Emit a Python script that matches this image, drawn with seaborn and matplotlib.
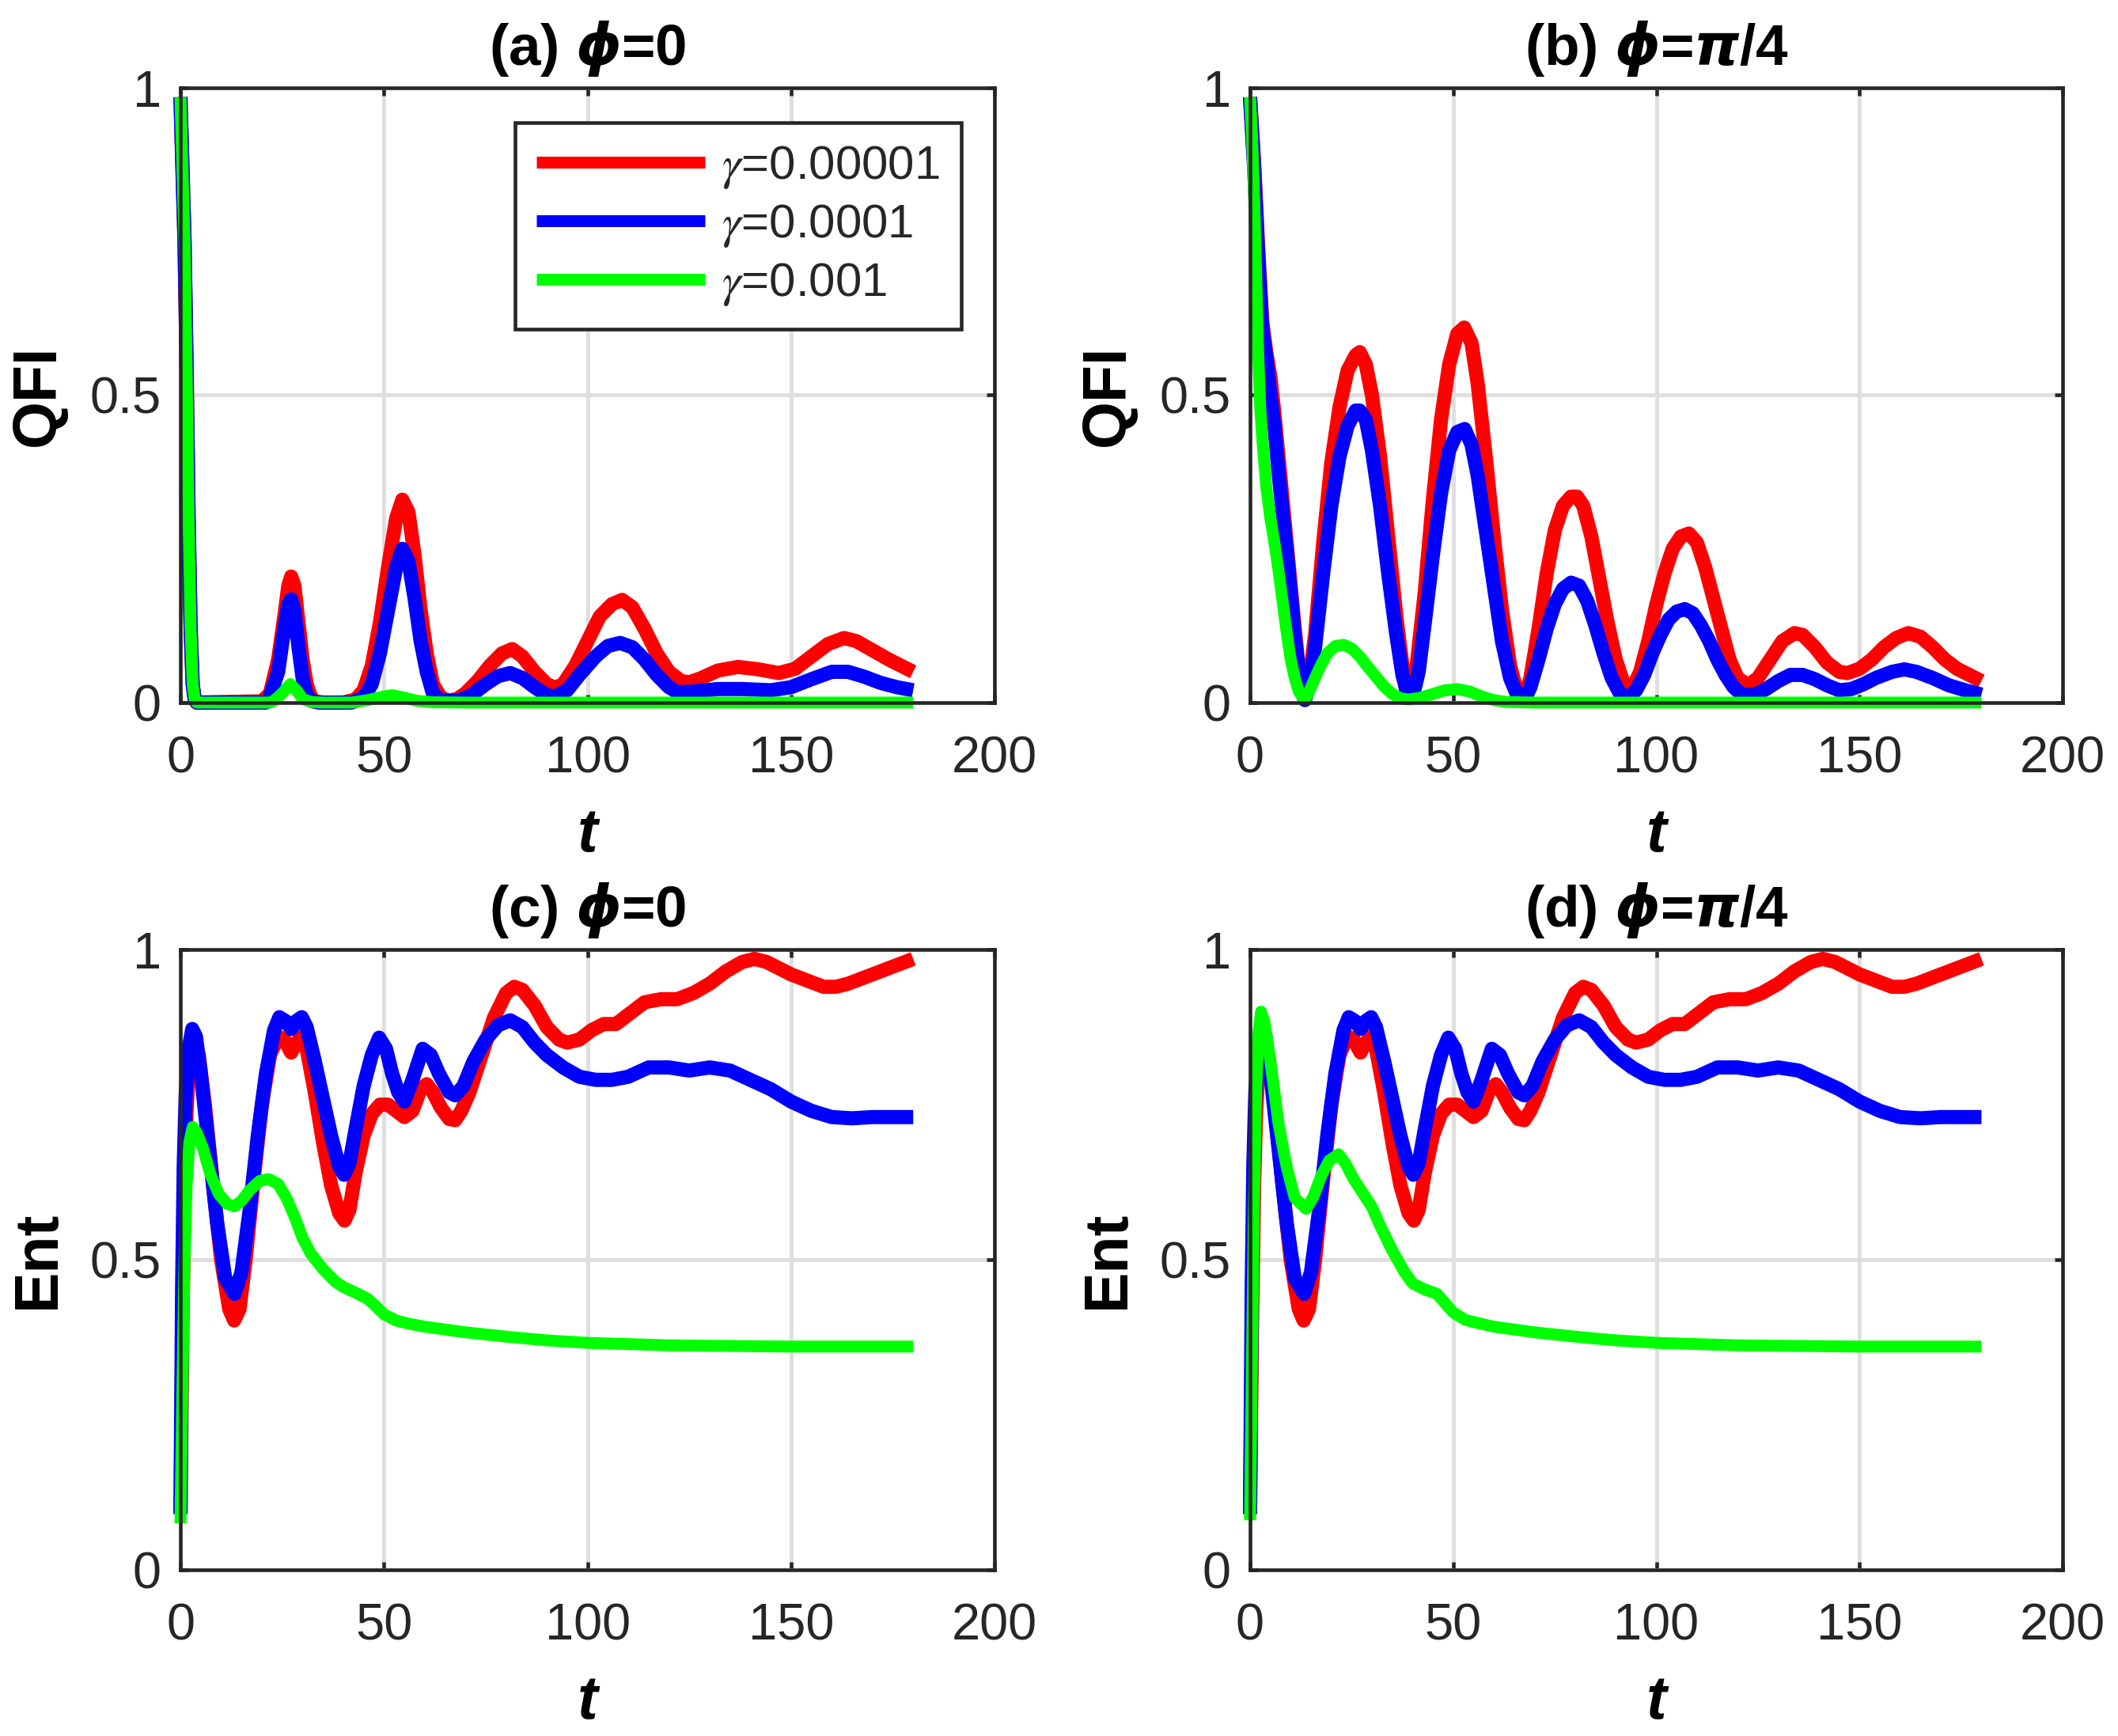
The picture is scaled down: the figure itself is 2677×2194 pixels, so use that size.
import numpy as np
import pandas as pd
import matplotlib
matplotlib.use("Agg")
import matplotlib.pyplot as plt
from matplotlib.font_manager import FontProperties
import seaborn as sns


# series: t values and curve values per panel

gammas = ["0.00001", "0.0001", "0.001"]
colors = ["#ff0000", "#0000ff", "#00ff00"]
widths = [4.3, 4.3, 3.6]

# (a) QFI, phi = 0
a_red_t = [0, 1, 1.5, 2, 2.5, 3, 3.5, 4, 20, 22, 24, 25.5, 26.5, 27.2, 28, 29, 30, 31, 32, 33, 35,
           40, 43, 45, 47, 49, 51, 53, 54.5, 56, 57.5, 59, 60.5, 62, 64, 66, 68, 70, 73, 76, 79,
           81.5, 84, 87, 90, 92, 94, 97, 100, 103, 106, 108.5, 111, 114, 117, 120, 123, 125, 128,
           132, 137, 142, 147, 151, 155, 159, 163, 166, 170, 174, 177, 180]
a_red_v = [0.985, 0.75, 0.55, 0.3, 0.12, 0.03, 0.005, 0, 0.002, 0.015, 0.07, 0.14, 0.19, 0.205,
           0.19, 0.13, 0.07, 0.03, 0.01, 0.002, 0, 0, 0.005, 0.02, 0.06, 0.13, 0.22, 0.3, 0.33,
           0.31, 0.24, 0.15, 0.08, 0.03, 0.008, 0.003, 0.006, 0.015, 0.035, 0.06, 0.08, 0.087,
           0.075, 0.05, 0.03, 0.024, 0.03, 0.06, 0.1, 0.14, 0.16, 0.167, 0.155, 0.12, 0.08, 0.05,
           0.035, 0.033, 0.04, 0.052, 0.058, 0.054, 0.048, 0.055, 0.075, 0.095, 0.105, 0.1, 0.085,
           0.07, 0.06, 0.05]
a_blue_t = [0, 1, 1.5, 2, 2.5, 3, 3.5, 4, 21, 22, 24, 25.5, 26.5, 27.2, 28, 29, 30, 31, 32.5, 34,
            42, 45, 47, 49, 51, 53, 54.5, 56, 57.5, 59, 60.5, 62, 64, 68, 71, 75, 78, 81, 84, 87,
            90, 92, 95, 98, 102, 105, 108, 111, 114, 117, 120, 122, 126, 132, 138, 145, 150, 155,
            160, 164, 168, 172, 176, 180]
a_blue_v = [0.985, 0.75, 0.55, 0.3, 0.12, 0.03, 0.005, 0, 0, 0.01, 0.05, 0.12, 0.16, 0.168, 0.15,
            0.09, 0.04, 0.012, 0.002, 0, 0, 0.008, 0.03, 0.08, 0.15, 0.22, 0.25, 0.23, 0.17, 0.1,
            0.05, 0.015, 0.003, 0.003, 0.01, 0.03, 0.043, 0.048, 0.04, 0.025, 0.012, 0.01, 0.02,
            0.045, 0.075, 0.092, 0.097, 0.09, 0.07, 0.045, 0.025, 0.017, 0.018, 0.022, 0.022, 0.02,
            0.025, 0.038, 0.05, 0.05, 0.042, 0.032, 0.025, 0.02]
a_green_t = [0, 1, 1.5, 2, 2.5, 3, 3.5, 4, 22, 23, 25, 27, 28.5, 30, 32, 35, 42, 46, 50, 52, 55,
             58, 62, 70, 180]
a_green_v = [0.985, 0.75, 0.55, 0.3, 0.12, 0.03, 0.005, 0, 0, 0.003, 0.015, 0.03, 0.02, 0.006,
             0.001, 0, 0, 0.004, 0.01, 0.012, 0.008, 0.003, 0.0005, 0, 0]

# (b) QFI, phi = pi/4
b_red_t = [0, 1, 2, 3, 4, 5, 6, 7, 8, 9, 10, 11, 12, 13, 13.5, 14.5, 16, 18, 20, 22, 24, 26, 27,
           28.5, 30, 32, 34, 36, 37.5, 38.5, 39.5, 41, 43, 45, 47, 49, 51, 52.7, 54.5, 56, 58, 60,
           62, 64, 66, 67.5, 69, 71, 73, 75, 77, 79, 80.5, 82, 84, 86, 88, 90, 92, 94, 96, 98, 100,
           102, 104, 106, 108, 110, 112, 114, 116, 118, 120, 122.5, 125, 128, 131, 134, 136, 139,
           142, 145, 147, 150, 153, 156, 159, 162, 165, 168, 171, 174, 177, 180]
b_red_v = [0.985, 0.88, 0.74, 0.62, 0.57, 0.53, 0.47, 0.4, 0.33, 0.26, 0.19, 0.12, 0.055, 0.014,
           0.005, 0.03, 0.11, 0.26, 0.39, 0.48, 0.54, 0.565, 0.57, 0.55, 0.5, 0.4, 0.27, 0.14, 0.06,
           0.015, 0.01, 0.06, 0.18, 0.33, 0.46, 0.55, 0.6, 0.61, 0.585, 0.52, 0.4, 0.27, 0.15, 0.06,
           0.01, 0.005, 0.04, 0.12, 0.21, 0.28, 0.32, 0.335, 0.335, 0.32, 0.27, 0.2, 0.13, 0.07,
           0.03, 0.022, 0.05, 0.1, 0.16, 0.21, 0.25, 0.27, 0.275, 0.26, 0.22, 0.17, 0.12, 0.07,
           0.04, 0.028, 0.04, 0.07, 0.1, 0.113, 0.11, 0.09, 0.065, 0.05, 0.048, 0.055, 0.07, 0.09,
           0.105, 0.113, 0.107, 0.09, 0.07, 0.055, 0.045, 0.035]
b_blue_t = [0, 1, 2, 3, 4, 5, 6, 7, 8, 9, 10, 11, 12, 13, 13.5, 14.5, 16, 18, 20, 22, 24, 26, 27,
            28.5, 30, 32, 34, 36, 37.5, 39, 40, 41.5, 43, 45, 47, 49, 51, 52.8, 54.5, 56, 58, 60,
            62, 64, 66, 67.5, 69, 71, 73, 75, 77, 79, 81, 83, 85, 87, 89, 91, 93, 95, 97, 99, 101,
            103, 105, 107, 109, 111, 113, 115, 117, 119, 121, 124, 127, 130, 133, 136, 139, 142,
            145, 148, 151, 154, 158, 161, 164, 168, 172, 176, 180]
b_blue_v = [0.985, 0.87, 0.73, 0.61, 0.56, 0.5, 0.45, 0.375, 0.31, 0.25, 0.18, 0.11, 0.05, 0.012,
            0.004, 0.025, 0.09, 0.21, 0.32, 0.4, 0.45, 0.475, 0.475, 0.46, 0.41, 0.32, 0.21, 0.11,
            0.045, 0.008, 0.008, 0.05, 0.13, 0.24, 0.34, 0.41, 0.44, 0.445, 0.42, 0.37, 0.28, 0.19,
            0.1, 0.04, 0.008, 0.004, 0.025, 0.07, 0.12, 0.16, 0.185, 0.195, 0.19, 0.165, 0.125,
            0.08, 0.04, 0.015, 0.008, 0.02, 0.045, 0.08, 0.11, 0.135, 0.148, 0.152, 0.145, 0.125,
            0.1, 0.07, 0.045, 0.025, 0.013, 0.012, 0.022, 0.035, 0.045, 0.045, 0.038, 0.028, 0.02,
            0.022, 0.03, 0.04, 0.05, 0.054, 0.05, 0.04, 0.028, 0.02, 0.013]
b_green_t = [0, 0.5, 1, 1.5, 2, 2.5, 3, 4, 5, 6, 7, 8, 9, 10, 11, 12, 13, 14, 15, 17, 19, 21, 23,
             25, 27, 29, 31, 33, 35, 37, 39, 42, 45, 48, 51, 54, 57, 60, 63, 70, 180]
b_green_v = [0.985, 0.92, 0.82, 0.7, 0.57, 0.48, 0.43, 0.35, 0.3, 0.26, 0.215, 0.165, 0.115,
             0.07, 0.04, 0.018, 0.008, 0.01, 0.025, 0.055, 0.08, 0.092, 0.094, 0.088, 0.075,
             0.058, 0.042, 0.026, 0.014, 0.007, 0.005, 0.008, 0.014, 0.02, 0.022, 0.018, 0.01,
             0.004, 0.001, 0, 0]

# (c)/(d) Ent, red and blue curves are the same in both panels
cd_red_t = [0, 0.5, 1, 1.5, 2, 3, 3.5, 4.5, 6, 8, 10, 12, 13.2, 14.5, 16, 18, 20, 22, 24, 25.5,
            27.2, 28.5, 29.8, 31, 33, 35, 37, 39, 40.3, 41.5, 43, 45, 47, 49, 51, 53, 55, 57, 59,
            60.5, 62, 64, 66, 67.5, 69, 71, 74, 77, 80, 82, 84, 87, 90, 93, 95, 98, 101, 104, 107,
            110, 114, 118, 122, 126, 130, 134, 138, 141, 144, 147, 150, 154, 158, 161, 164, 168,
            172, 176, 180]
cd_red_v = [0.09, 0.4, 0.62, 0.74, 0.8, 0.84, 0.845, 0.83, 0.75, 0.62, 0.5, 0.42, 0.402, 0.42,
            0.5, 0.63, 0.75, 0.83, 0.86, 0.855, 0.834, 0.85, 0.86, 0.84, 0.77, 0.69, 0.62, 0.575,
            0.563, 0.58, 0.64, 0.7, 0.735, 0.75, 0.75, 0.74, 0.73, 0.74, 0.775, 0.783, 0.77, 0.745,
            0.727, 0.725, 0.74, 0.77, 0.83, 0.89, 0.93, 0.94, 0.935, 0.91, 0.875, 0.855, 0.85,
            0.855, 0.87, 0.88, 0.88, 0.895, 0.915, 0.92, 0.92, 0.93, 0.945, 0.965, 0.98, 0.985,
            0.98, 0.97, 0.96, 0.95, 0.94, 0.94, 0.945, 0.955, 0.965, 0.975, 0.985]
cd_blue_t = [0, 0.4, 0.8, 1.3, 2, 2.9, 3.8, 5, 7, 9, 11, 13.3, 15, 17, 19, 21, 23, 24.3, 25.8,
             27.2, 28.5, 29.8, 31, 33, 35, 37, 39, 40.2, 41.5, 43, 45, 47, 48.8, 50.5, 52, 53.5,
             55, 57, 59.5, 61.5, 63.5, 66, 67.5, 69.5, 72, 75, 78, 81, 84, 87, 90, 94, 98, 102,
             106, 110, 115, 120, 125, 130, 135, 140, 145, 150, 155, 160, 165, 170, 175, 180]
cd_blue_v = [0.09, 0.45, 0.65, 0.77, 0.84, 0.872, 0.86, 0.8, 0.68, 0.56, 0.47, 0.445, 0.48, 0.58,
             0.7, 0.8, 0.87, 0.891, 0.885, 0.872, 0.885, 0.891, 0.875, 0.82, 0.76, 0.7, 0.65,
             0.637, 0.655, 0.71, 0.78, 0.83, 0.858, 0.84, 0.8, 0.77, 0.755, 0.79, 0.84, 0.83, 0.8,
             0.77, 0.765, 0.78, 0.82, 0.855, 0.878, 0.886, 0.875, 0.85, 0.83, 0.81, 0.795, 0.79,
             0.79, 0.795, 0.81, 0.81, 0.805, 0.81, 0.805, 0.79, 0.775, 0.755, 0.74, 0.73, 0.728,
             0.73, 0.73, 0.73]
c_green_t = [0, 0.5, 1, 1.5, 2.2, 3, 4, 5.5, 7.5, 9.5, 11.5, 13.3, 15, 17, 19.5, 21.7, 24, 26,
             28, 30, 32, 35, 38, 40, 43, 46, 48, 50, 53, 56, 60, 70, 80, 90, 100, 120, 150, 180]
c_green_v = [0.075, 0.3, 0.5, 0.62, 0.69, 0.714, 0.705, 0.68, 0.635, 0.605, 0.59, 0.586, 0.595,
             0.612, 0.627, 0.63, 0.622, 0.6, 0.57, 0.535, 0.51, 0.485, 0.465, 0.456, 0.447, 0.437,
             0.425, 0.412, 0.402, 0.397, 0.392, 0.383, 0.376, 0.37, 0.366, 0.362, 0.36, 0.36]
d_green_t = [0, 0.5, 1, 1.5, 2, 2.7, 3.5, 5, 7, 9, 11, 13.8, 15.5, 17.5, 19.5, 21.8, 23.5, 25.5,
             28, 30, 32, 35, 38, 40, 43, 46, 48, 50, 53, 56, 60, 70, 80, 90, 100, 120, 150, 180]
d_green_v = [0.08, 0.35, 0.6, 0.77, 0.86, 0.9, 0.885, 0.82, 0.72, 0.65, 0.6, 0.582, 0.6, 0.635,
             0.66, 0.67, 0.655, 0.63, 0.605, 0.585, 0.555, 0.515, 0.48, 0.462, 0.452, 0.445, 0.43,
             0.415, 0.403, 0.398, 0.392, 0.383, 0.376, 0.37, 0.366, 0.362, 0.36, 0.36]

x_ticks = [0, 50, 100, 150, 200]
x_tick_labels = ["0", "50", "100", "150", "200"]
y_ticks = [0, 0.5, 1]
y_tick_labels = ["0", "0.5", "1"]

panels = [
    ("(a) $\\boldsymbol{\\phi}$=0", "QFI",
     [(a_red_t, a_red_v), (a_blue_t, a_blue_v), (a_green_t, a_green_v)]),
    ("(b) $\\boldsymbol{\\phi}$=$\\boldsymbol{\\pi}$/4", "QFI",
     [(b_red_t, b_red_v), (b_blue_t, b_blue_v), (b_green_t, b_green_v)]),
    ("(c) $\\boldsymbol{\\phi}$=0", "Ent",
     [(cd_red_t, cd_red_v), (cd_blue_t, cd_blue_v), (c_green_t, c_green_v)]),
    ("(d) $\\boldsymbol{\\phi}$=$\\boldsymbol{\\pi}$/4", "Ent",
     [(cd_red_t, cd_red_v), (cd_blue_t, cd_blue_v), (d_green_t, d_green_v)]),
]

# axes rectangles in figure fraction
rects = [
    (0.0852, 0.5953, 0.3844, 0.3541),
    (0.5902, 0.5953, 0.3837, 0.3541),
    (0.0852, 0.0957, 0.3844, 0.3573),
    (0.5902, 0.0957, 0.3837, 0.3573),
]

sns.set_theme(style="ticks")
plt.rcParams["font.family"] = ["Liberation Sans", "DejaVu Sans"]
plt.rcParams["axes.unicode_minus"] = False

DARK = "#262626"


def long_frame(series):
    parts = []
    for (t, v), g in zip(series, gammas):
        parts.append(pd.DataFrame({"t": t, "value": v, "gamma": g}))
    return pd.concat(parts, ignore_index=True)


def draw_panel(ax, title, ylabel, series, with_legend=False):
    df = long_frame(series)
    sns.lineplot(data=df, x="t", y="value", hue="gamma", hue_order=gammas,
                 palette=colors, estimator=None, sort=False, legend=False, ax=ax,
                 clip_on=False, solid_capstyle="butt", solid_joinstyle="round")
    lines = ax.get_lines()[:3]
    for ln, w in zip(lines, widths):
        ln.set_linewidth(w)
    ax.set_xlim(0, 200)
    ax.set_ylim(0, 1)
    ax.set_xticks(x_ticks)
    ax.set_xticklabels(x_tick_labels)
    ax.set_yticks(y_ticks)
    ax.set_yticklabels(y_tick_labels)
    ax.grid(True, color="#dfdfdf", linewidth=1.2)
    ax.set_axisbelow(True)
    for s in ax.spines.values():
        s.set_visible(True)
        s.set_color(DARK)
        s.set_linewidth(1.1)
        s.set_zorder(5)
    ax.tick_params(direction="in", top=True, right=True, length=2.5, width=1.1,
                   color=DARK, labelcolor=DARK, labelsize=15.6)
    ax.tick_params(axis="x", pad=10)
    ax.tick_params(axis="y", pad=5.8)
    ax.set_title(title, fontsize=17.5, fontweight="bold", color="black", pad=7,
                 math_fontfamily="dejavusans")
    ax.set_ylabel(ylabel, fontsize=18.5, fontweight="bold", color="black", labelpad=7)
    ax.set_xlabel("t", fontsize=18.5, fontweight="bold", fontstyle="italic",
                  color="black", labelpad=7)
    if with_legend:
        prop = FontProperties(family=["Liberation Sans"], size=14.4, math_fontfamily="stix")
        leg = ax.legend(handles=lines,
                        labels=["$\\gamma$=" + g for g in gammas],
                        loc="upper right", bbox_to_anchor=(0.959, 0.943),
                        prop=prop, frameon=True, fancybox=False, framealpha=1,
                        handlelength=3.55, handletextpad=0.35, labelspacing=0.25,
                        borderpad=0.45, borderaxespad=0)
        leg.get_frame().set_edgecolor(DARK)
        leg.get_frame().set_linewidth(1.1)
        for h in leg.get_lines():
            h.set_linewidth(3.6)
            h.set_solid_capstyle("butt")
    return ax


fig = plt.figure(figsize=(2677 / 300, 2194 / 300), dpi=300)
for i, (title, ylabel, series) in enumerate(panels):
    ax = fig.add_axes(rects[i])
    draw_panel(ax, title, ylabel, series, with_legend=(i == 0))

fig.savefig("out.png", dpi=300, facecolor="white")
